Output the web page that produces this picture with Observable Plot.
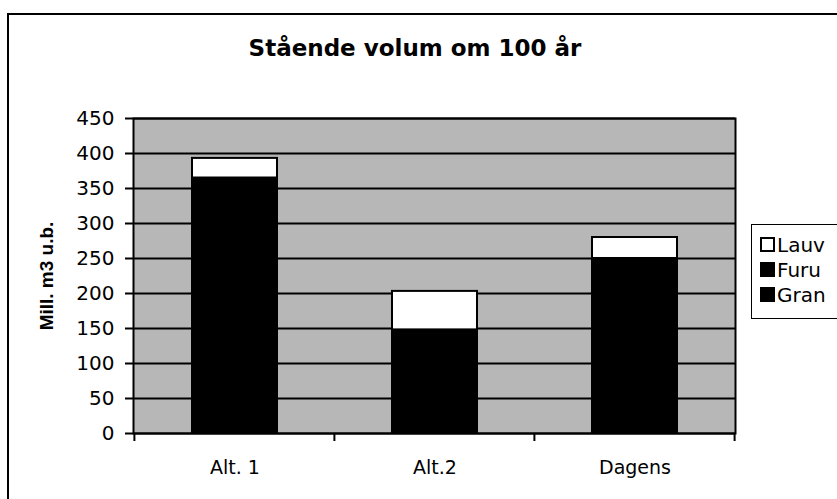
<!DOCTYPE html>
<html>
<head>
<meta charset="utf-8">
<script src="https://cdn.jsdelivr.net/npm/d3@7"></script>
<script src="https://cdn.jsdelivr.net/npm/@observablehq/plot@0.6"></script>
<style>
  body { margin: 0; background: #fff; font-family: "DejaVu Sans", sans-serif; }
  #wrap { position: relative; width: 837px; height: 499px; overflow: hidden; }
  #border { position: absolute; left: 7px; top: 13px; width: 840px; height: 500px; border: 2px solid #000; box-sizing: border-box; }
  #title { position: absolute; left: 0; top: 34px; width: 830px; text-align: center; font-size: 23px; font-weight: bold; color: #000; line-height: 28px; }
  #legend { position: absolute; left: 751px; top: 224px; width: 100px; height: 95px; border: 1.5px solid #000; box-sizing: border-box; background: #fff; }
  .item { position: absolute; left: 8px; font-size: 20px; line-height: 20px; color: #000; white-space: nowrap; }
  .sw { display: inline-block; width: 15px; height: 15px; border: 2px solid #000; box-sizing: border-box; vertical-align: 0px; margin-right: 2px; }
  #chart { position: absolute; left: 0; top: 0; }
  #chart svg { font-family: "DejaVu Sans", sans-serif; }
</style>
</head>
<body>
<div id="wrap">
  <div id="border"></div>
  <div id="chart"></div>
  <div id="title"></div>
  <div id="legend"></div>
</div>
<script>
const title = "Stående volum om 100 år";
const yLabel = "Mill. m3 u.b.";
const categories = ["Alt. 1", "Alt.2", "Dagens"];
const series = ["Gran", "Furu", "Lauv"];
const gran = [290, 105, 190];
const furu = [75, 43, 60];
const lauv = [28, 55, 30];
const yTicks = [0, 50, 100, 150, 200, 250, 300, 350, 400, 450];
const colors = {Gran: "#000", Furu: "#000", Lauv: "#fff"};
const legendOrder = ["Lauv", "Furu", "Gran"];

const data = [];
categories.forEach((c, i) => {
  data.push({cat: c, series: "Gran", value: gran[i]});
  data.push({cat: c, series: "Furu", value: furu[i]});
  data.push({cat: c, series: "Lauv", value: lauv[i]});
});

const plot = Plot.plot({
  width: 837,
  height: 499,
  marginLeft: 133,
  marginRight: 102,
  marginTop: 118,
  marginBottom: 66,
  style: {background: "transparent", fontSize: "19px", color: "#000"},
  x: {domain: categories, paddingInner: 0.576, paddingOuter: 0.288, label: null},
  y: {domain: [0, 450], ticks: yTicks, label: null},
  color: {domain: series, range: series.map(s => colors[s])},
  marks: [
    Plot.frame({fill: "#b7b7b7"}),
    Plot.gridY(yTicks, {stroke: "#000", strokeOpacity: 1, strokeWidth: 2}),
    Plot.barY(data, Plot.stackY({x: "cat", y: "value", fill: "series", order: series, stroke: "#000", strokeWidth: 2})),
    Plot.frame({stroke: "#000", strokeWidth: 2}),
    Plot.axisY(yTicks, {tickSize: 8, tickPadding: 11, fontSize: 20, label: null, stroke: "#000", strokeWidth: 2}),
    Plot.axisX({tickSize: 0, tickPadding: 27, fontSize: 19, label: null}),
    Plot.text([yLabel], {frameAnchor: "left", textAnchor: "middle", dx: -87, rotate: -90, fontSize: 19, fontWeight: "bold", fontFamily: "Liberation Sans, Arial, sans-serif", fill: "#000"})
  ]
});
document.getElementById("chart").appendChild(plot);

// category boundary ticks on the x axis, from Plot's own x scale
const xs = plot.scale("x");
const ys = plot.scale("y");
const y0 = ys.apply(0);
const half = xs.step * 0.576 / 2;
const bounds = categories.map(c => xs.apply(c) - half);
bounds.push(xs.apply(categories[categories.length - 1]) + xs.bandwidth + half);
const svg = d3.select(plot);
svg.append("g").selectAll("line").data(bounds).join("line")
  .attr("x1", d => d).attr("x2", d => d)
  .attr("y1", y0).attr("y2", y0 + 8)
  .attr("stroke", "#000").attr("stroke-width", 2);

document.getElementById("title").textContent = title;
const leg = document.getElementById("legend");
legendOrder.forEach((s, i) => {
  const div = document.createElement("div");
  div.className = "item";
  div.style.top = (10 + i * 25) + "px";
  const sw = document.createElement("span");
  sw.className = "sw";
  sw.style.background = colors[s];
  div.appendChild(sw);
  div.appendChild(document.createTextNode(s));
  leg.appendChild(div);
});
</script>
</body>
</html>
